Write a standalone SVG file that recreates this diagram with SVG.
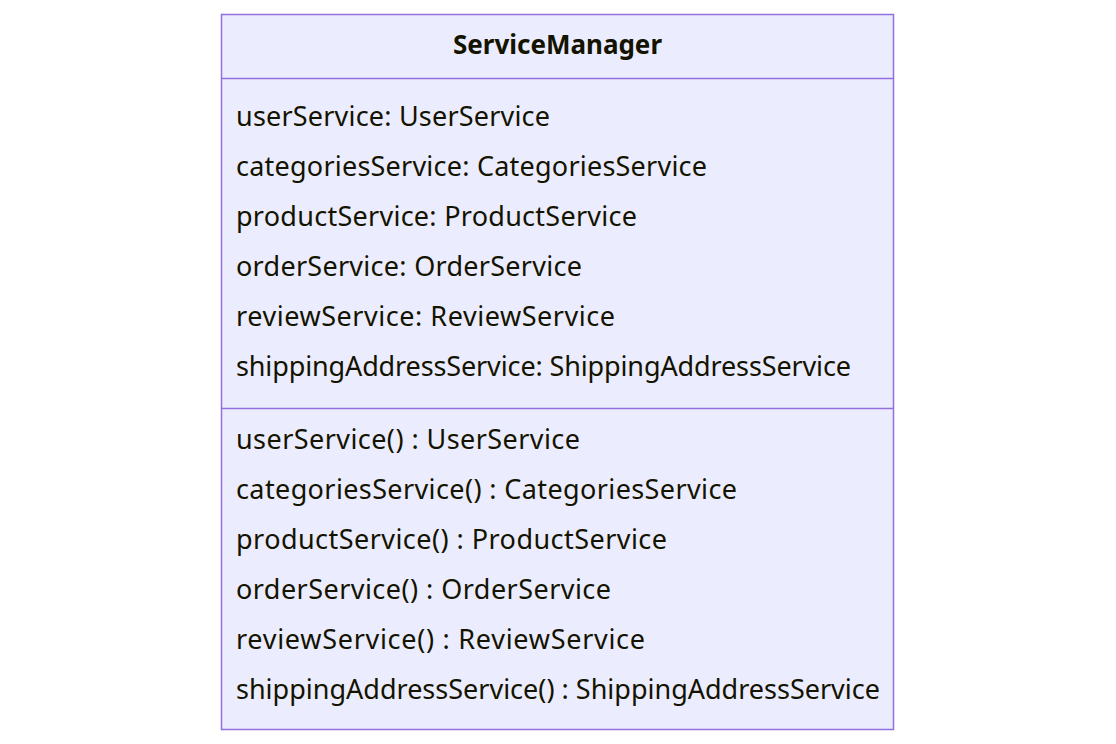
<svg xmlns="http://www.w3.org/2000/svg" width="1116" height="744" viewBox="0 0 1116 744">
<style>
.box{fill:#ECECFF;stroke:#9370DB;stroke-width:1.5}
.div{stroke:#9370DB;stroke-width:1.5}
.t{font-family:"Noto Sans","DejaVu Sans",sans-serif;font-size:27px;fill:#131300}
.h{font-family:"Noto Sans","DejaVu Sans",sans-serif;font-size:26px;font-weight:bold;fill:#131300}
</style>
<rect width="1116" height="744" fill="#ffffff"/>
<g id="ServiceManager">
<rect class="box" x="221.5" y="14.5" width="672" height="715"/>
<line class="div" x1="221.5" y1="78.5" x2="893.5" y2="78.5"/>
<line class="div" x1="221.5" y1="408.5" x2="893.5" y2="408.5"/>
<text class="h" x="453" y="54" textLength="209">ServiceManager</text>
<text class="t" x="236" y="126" textLength="314">userService: UserService</text>
<text class="t" x="236" y="176" textLength="471">categoriesService: CategoriesService</text>
<text class="t" x="236" y="226" textLength="401">productService: ProductService</text>
<text class="t" x="236" y="276" textLength="346">orderService: OrderService</text>
<text class="t" x="236" y="326" textLength="379">reviewService: ReviewService</text>
<text class="t" x="236" y="376" textLength="615">shippingAddressService: ShippingAddressService</text>
<text class="t" x="236" y="449" textLength="344">userService() : UserService</text>
<text class="t" x="236" y="499" textLength="501">categoriesService() : CategoriesService</text>
<text class="t" x="236" y="549" textLength="431">productService() : ProductService</text>
<text class="t" x="236" y="599" textLength="375">orderService() : OrderService</text>
<text class="t" x="236" y="649" textLength="409">reviewService() : ReviewService</text>
<text class="t" x="236" y="699" textLength="644">shippingAddressService() : ShippingAddressService</text>
</g>
<g id="connectors"></g>
</svg>
